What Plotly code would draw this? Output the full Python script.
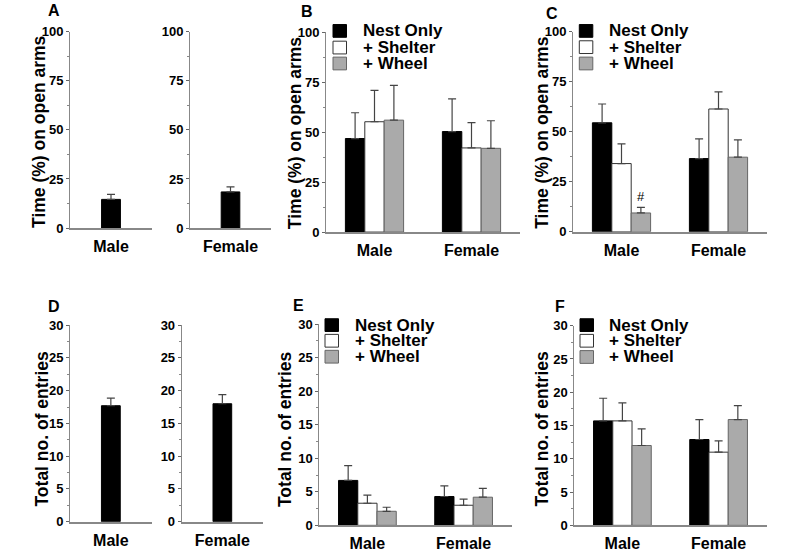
import plotly.graph_objects as go

W, H = 796, 552

groups = ["Male", "Female"]
series_names = ["Nest Only", "+ Shelter", "+ Wheel"]
series_fill = ["#000000", "#ffffff", "#aaaaaa"]
series_line = ["#000000", "#333333", "#666666"]

# Panel A: time (%) on open arms, single group per sex
a_mean = [14.6, 18.4]
a_sem = [2.5, 2.6]
# Panel B
b_mean = {"Nest Only": [46.8, 50.3], "+ Shelter": [55.2, 42.1], "+ Wheel": [56.0, 41.9]}
b_sem = {"Nest Only": [12.9, 16.3], "+ Shelter": [15.7, 12.7], "+ Wheel": [17.4, 13.8]}
# Panel C
c_mean = {"Nest Only": [54.5, 36.6], "+ Shelter": [34.1, 61.4], "+ Wheel": [9.4, 37.3]}
c_sem = {"Nest Only": [9.4, 9.9], "+ Shelter": [9.9, 8.6], "+ Wheel": [2.8, 8.7]}
# Panel D: total no. of entries
d_mean = [17.7, 18.0]
d_sem = [1.15, 1.4]
# Panel E
e_mean = {"Nest Only": [6.7, 4.3], "+ Shelter": [3.3, 3.0], "+ Wheel": [2.1, 4.2]}
e_sem = {"Nest Only": [2.2, 1.6], "+ Shelter": [1.2, 0.9], "+ Wheel": [0.6, 1.3]}
# Panel F
f_mean = {"Nest Only": [15.7, 12.9], "+ Shelter": [15.7, 11.0], "+ Wheel": [12.0, 15.9]}
f_sem = {"Nest Only": [3.4, 3.0], "+ Shelter": [2.7, 1.7], "+ Wheel": [2.5, 2.1]}

time_ticks = [0, 25, 50, 75, 100]
entry_ticks = [0, 5, 10, 15, 20, 25, 30]

FONT = "Liberation Sans, Arial, Helvetica, sans-serif"
ERRC = "#444444"

# the photographed page is slightly squeezed vertically; compensate
SY = 539.0 / 552.0
OY = 6.4

fig = go.Figure()
layout = dict(width=W, height=H, margin=dict(l=0, r=0, t=0, b=0),
              paper_bgcolor="white", plot_bgcolor="white", showlegend=False,
              barmode="overlay", font=dict(family=FONT, color="black"))
annotations = []
shapes = []


def px(x):
    return x / W


def py(y):
    return 1 - ((y - OY) / SY) / H


def add_axes(idx, x0, x1, y0top, y1bot, yticks, minor, labels, xrange):
    xa = "xaxis" if idx == 1 else f"xaxis{idx}"
    ya = "yaxis" if idx == 1 else f"yaxis{idx}"
    layout[xa] = dict(domain=[px(x0), px(x1)], anchor=f"y{idx}" if idx > 1 else "y",
                      range=xrange, showline=True, linecolor="#888888", linewidth=1.5,
                      ticks="", tickmode="array", tickvals=list(range(len(labels))),
                      ticktext=labels, showgrid=False, zeroline=False, fixedrange=True,
                      tickfont=dict(size=16, family=FONT, color="black", weight="bold"),
                      ticklabelstandoff=3)
    layout[ya] = dict(domain=[py(y1bot), py(y0top)], anchor=f"x{idx}" if idx > 1 else "x",
                      range=[yticks[0], yticks[-1]], showline=True, linecolor="#888888",
                      linewidth=1, ticks="outside", ticklen=3, tickcolor="#666666",
                      tickmode="array", tickvals=yticks, showgrid=False, zeroline=False,
                      tickfont=dict(size=13, family=FONT, color="black", weight="bold"),
                      minor=dict(dtick=minor, ticks="outside", ticklen=2, tickcolor="#888888"),
                      ticklabelstandoff=0, fixedrange=True)


def single(idx, mean, sem, cat):
    xn = "x" if idx == 1 else f"x{idx}"
    yn = "y" if idx == 1 else f"y{idx}"
    fig.add_trace(go.Bar(x=[0], y=[mean], width=0.23, xaxis=xn, yaxis=yn,
                         marker=dict(color="#000000", line=dict(color="#000000", width=1)),
                         error_y=dict(type="data", symmetric=False, array=[sem], arrayminus=[0],
                                      color=ERRC, thickness=1.2, width=4),
                         name=cat))


def grouped(idx, means, sems):
    xn = "x" if idx == 1 else f"x{idx}"
    yn = "y" if idx == 1 else f"y{idx}"
    for i, s in enumerate(series_names):
        fig.add_trace(go.Bar(x=list(range(len(groups))), y=means[s], width=0.2,
                             offset=-0.3 + 0.2 * i, xaxis=xn, yaxis=yn, name=s,
                             marker=dict(color=series_fill[i], line=dict(color=series_line[i], width=1)),
                             error_y=dict(type="data", symmetric=False, array=sems[s],
                                          arrayminus=[0] * len(groups), color=ERRC,
                                          thickness=1.2, width=4)))


def ytitle(text, xc, yc):
    annotations.append(dict(text=f"<b>{text}</b>", x=px(xc), y=py(yc), xref="paper", yref="paper",
                            textangle=-90, showarrow=False, xanchor="center", yanchor="middle",
                            font=dict(size=17.5, family=FONT, color="black")))


def letter(text, xc, yc):
    annotations.append(dict(text=f"<b>{text}</b>", x=px(xc), y=py(yc), xref="paper", yref="paper",
                            showarrow=False, xanchor="center", yanchor="middle",
                            font=dict(size=16, family=FONT, color="black")))


def legend(bx, rows_top, tx):
    for i, s in enumerate(series_names):
        t = rows_top[i]
        shapes.append(dict(type="rect", xref="paper", yref="paper", x0=px(bx), x1=px(bx + 13.5),
                           y0=py(t + 12.8), y1=py(t), fillcolor=series_fill[i],
                           line=dict(color=series_line[i] if i else "#000000", width=1)))
        annotations.append(dict(text=f"<b>{s}</b>", x=px(tx), y=py(t + 6.4), xref="paper", yref="paper",
                                showarrow=False, xanchor="left", yanchor="middle",
                                font=dict(size=17, family=FONT, color="black")))


# ---- Row 1 ----
add_axes(1, 70, 152, 31, 228.3, time_ticks, 12.5, ["Male"], [-0.5, 0.5])
single(1, a_mean[0], a_sem[0], "Male")
add_axes(2, 190, 271, 31, 228.3, time_ticks, 12.5, ["Female"], [-0.5, 0.5])
single(2, a_mean[1], a_sem[1], "Female")
add_axes(3, 326, 520, 31.7, 232.3, time_ticks, 12.5, groups, [-0.5, 1.5])
grouped(3, b_mean, b_sem)
add_axes(4, 573, 767, 31.3, 232.0, time_ticks, 12.5, groups, [-0.5, 1.5])
grouped(4, c_mean, c_sem)

# ---- Row 2 ----
add_axes(5, 70, 151.7, 325.7, 523, entry_ticks, 2.5, ["Male"], [-0.5, 0.5])
single(5, d_mean[0], d_sem[0], "Male")
add_axes(6, 181.7, 263, 325.7, 523, entry_ticks, 2.5, ["Female"], [-0.5, 0.5])
single(6, d_mean[1], d_sem[1], "Female")
add_axes(7, 319.3, 511.7, 324.7, 526.7, entry_ticks, 2.5, groups, [-0.5, 1.5])
grouped(7, e_mean, e_sem)
add_axes(8, 574.3, 766.7, 326.3, 526.7, entry_ticks, 2.5, groups, [-0.5, 1.5])
grouped(8, f_mean, f_sem)

# titles
ytitle("Time (%) on open arms", 38.3, 131.5)
ytitle("Time (%) on open arms", 295, 133)
ytitle("Time (%) on open arms", 541.7, 133)
ytitle("Total no. of entries", 42.5, 430)
ytitle("Total no. of entries", 285, 430)
ytitle("Total no. of entries", 542.5, 430)

letter("A", 54, 10)
letter("B", 306.7, 11)
letter("C", 551.7, 12.5)
letter("D", 54, 307.5)
letter("E", 298, 306)
letter("F", 560, 307.5)

legend(333, [24, 40.7, 56.7], 360.7)
legend(579.3, [24, 40.3, 56.7], 607.3)
legend(325, [319.3, 335, 351], 353.3)
legend(580, [319.3, 335, 351.3], 607.3)

# significance mark on C male wheel
annotations.append(dict(text="#", x=0.2, y=c_mean["+ Wheel"][0] + c_sem["+ Wheel"][0],
                        xref="x4", yref="y4", showarrow=False, yanchor="bottom", yshift=1,
                        font=dict(size=13, family=FONT, color="black")))

layout["annotations"] = annotations
layout["shapes"] = shapes
fig.update_layout(**layout)
fig.write_html("out.html", config={"displayModeBar": False},
               post_script="document.body.style.margin='0px';")
